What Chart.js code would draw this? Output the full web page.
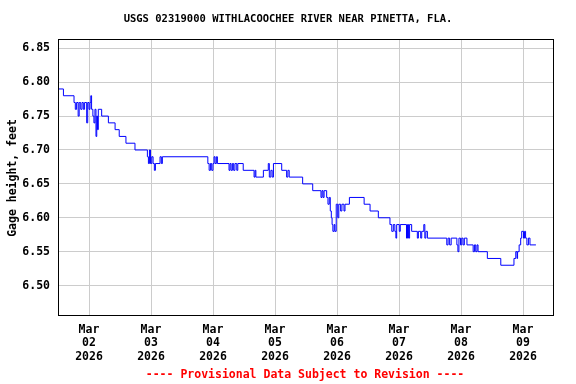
<!DOCTYPE html>
<html><head><meta charset="utf-8">
<script src="https://cdn.jsdelivr.net/npm/chart.js@4/dist/chart.umd.min.js"></script>
<style>html,body{margin:0;padding:0;background:#fff}#wrap{width:576px;height:384px}</style>
</head><body><div id="wrap"><canvas id="c" width="576" height="384"></canvas></div>
<script>
const chartTitle = 'USGS 02319000 WITHLACOOCHEE RIVER NEAR PINETTA, FLA.';
const yAxisTitle = 'Gage height, feet';
const footerText = '---- Provisional Data Subject to Revision ----';
// hours relative to 2026-03-02 00:00
const hours = [-12.0,-9.9,-5.8,-5.3,-4.8,-4.2,-3.8,-3.2,-2.7,-2.2,-1.7,-0.9,-0.5,0.0,0.4,0.7,1.0,1.5,1.9,2.3,2.7,3.0,3.3,3.6,4.9,7.5,10.1,11.7,14.3,17.8,
22.6,23.0,23.4,23.8,24.3,24.8,25.3,25.7,27.5,28.0,28.4,46.0,46.5,47.0,47.5,48.0,48.4,48.8,49.3,49.7,54.2,54.6,55.0,55.5,56.0,56.5,57.2,57.6,59.7,
63.9,64.3,64.6,67.5,69.4,69.8,70.4,70.9,71.4,74.6,76.5,77.0,77.5,82.7,86.6,89.8,90.2,90.6,91.0,92.0,92.5,93.0,93.4,93.8,94.1,94.4,94.9,95.2,95.7,
96.3,96.7,97.4,97.9,98.7,99.1,100.8,106.5,108.8,112.0,116.5,117.2,117.8,118.4,118.8,119.1,120.1,120.5,122.9,123.3,123.7,124.1,124.9,127.1,127.5,
128.4,128.8,129.6,130.0,130.4,131.0,138.5,139.0,139.6,140.2,142.4,142.8,143.2,143.8,144.3,144.8,145.3,146.3,148.7,149.2,149.7,150.2,150.6,154.2,
159.4,164.5,165.2,165.7,165.9,166.5,167.1,167.5,168.2,168.6,169.0,169.5,170.1,170.7,173.0];
const gage = [6.79,6.78,6.77,6.76,6.77,6.75,6.77,6.76,6.77,6.76,6.77,6.74,6.77,6.76,6.77,6.78,6.76,6.75,6.74,6.76,6.72,6.75,6.73,6.76,6.75,6.74,6.73,6.72,6.71,6.70,
6.69,6.68,6.70,6.68,6.69,6.68,6.67,6.68,6.69,6.68,6.69,6.68,6.67,6.68,6.67,6.68,6.69,6.68,6.69,6.68,6.67,6.68,6.67,6.68,6.67,6.68,6.67,6.68,6.67,
6.66,6.67,6.66,6.67,6.68,6.66,6.67,6.66,6.68,6.67,6.66,6.67,6.66,6.65,6.64,6.63,6.64,6.63,6.64,6.63,6.62,6.63,6.61,6.60,6.59,6.58,6.59,6.58,6.62,
6.60,6.62,6.61,6.62,6.61,6.62,6.63,6.62,6.61,6.60,6.59,6.58,6.59,6.58,6.57,6.59,6.58,6.59,6.57,6.59,6.57,6.59,6.58,6.57,6.58,
6.57,6.58,6.59,6.57,6.58,6.57,6.56,6.57,6.56,6.57,6.56,6.55,6.57,6.56,6.57,6.56,6.57,6.56,6.55,6.56,6.55,6.56,6.55,6.54,
6.53,6.54,6.55,6.54,6.55,6.56,6.57,6.58,6.57,6.58,6.57,6.56,6.57,6.56,6.56];
const xTickHours = [0,24,48,72,96,120,144,168];
const xTickLabels = [['Mar','02','2026'],['Mar','03','2026'],['Mar','04','2026'],['Mar','05','2026'],['Mar','06','2026'],['Mar','07','2026'],['Mar','08','2026'],['Mar','09','2026']];
const yTicks = [6.50,6.55,6.60,6.65,6.70,6.75,6.80,6.85];

const MONO = '"DejaVu Sans Mono", "Liberation Mono", monospace';
const deco = {
  id: 'deco',
  afterDraw(chart) {
    const {ctx, chartArea: a} = chart;
    ctx.save();
    ctx.strokeStyle = '#000'; ctx.lineWidth = 1;
    ctx.strokeRect(Math.round(a.left) + 0.5, Math.round(a.top) + 0.5, Math.round(a.right - a.left) - 1, Math.round(a.bottom - a.top));
    ctx.fillStyle = '#000';
    ctx.textAlign = 'center'; ctx.textBaseline = 'middle';
    ctx.font = 'bold 10.5px ' + MONO;
    ctx.fillText(chartTitle, 288, 19);
    ctx.fillStyle = '#ff0000';
    ctx.font = 'bold 11.5px ' + MONO;
    ctx.fillText(footerText, 305, 375);
    ctx.fillStyle = '#000';
    ctx.font = 'bold 11.5px ' + MONO;
    ctx.translate(13, 178);
    ctx.rotate(-Math.PI / 2);
    ctx.fillText(yAxisTitle, 0, 0);
    ctx.restore();
  }
};

new Chart(document.getElementById('c'), {
  type: 'line',
  data: {
    datasets: [{
      data: hours.map((h, i) => ({x: h, y: gage[i]})),
      borderColor: '#0000ff', borderWidth: 1, pointRadius: 0, stepped: 'before', fill: false
    }]
  },
  options: {
    responsive: false, animation: false, devicePixelRatio: 1,
    layout: {padding: {top: 39, right: 22, left: 0, bottom: 0}},
    plugins: {legend: {display: false}, tooltip: {enabled: false}, title: {display: false}},
    scales: {
      x: {
        type: 'linear', min: -12, max: 180,
        afterBuildTicks(s) { s.ticks = xTickHours.map(v => ({value: v})); },
        afterFit(s) { s.height = 69; },
        grid: {color: '#cccccc', drawTicks: false},
        border: {display: false},
        ticks: {
          autoSkip: false, maxRotation: 0, padding: 8, color: '#000',
          font: {family: MONO, size: 11.5, weight: 'bold', lineHeight: 1.17},
          callback: (v) => xTickLabels[xTickHours.indexOf(v)]
        }
      },
      y: {
        min: 6.4566, max: 6.8637,
        afterBuildTicks(s) { s.ticks = yTicks.map(v => ({value: v})); },
        afterFit(s) { s.width = 58; },
        grid: {color: '#cccccc', drawTicks: false},
        border: {display: false},
        ticks: {
          padding: 8, color: '#000',
          font: {family: MONO, size: 11.5, weight: 'bold'},
          callback: (v) => Number(v).toFixed(2)
        }
      }
    }
  },
  plugins: [deco]
});
</script></body></html>
